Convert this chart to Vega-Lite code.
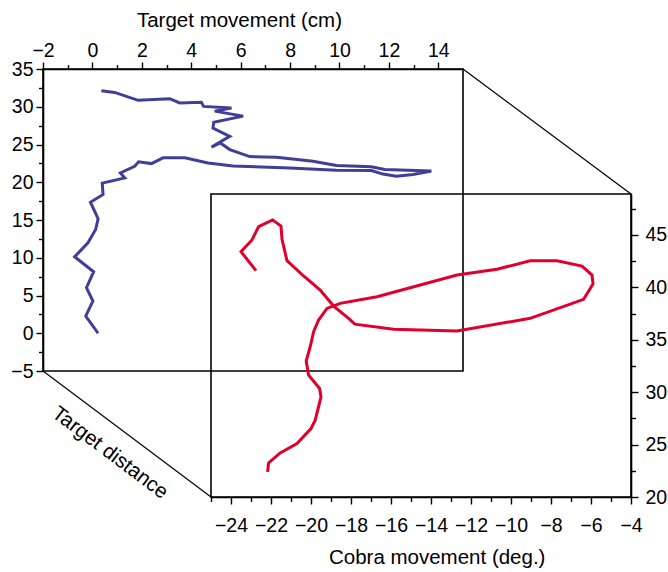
{
  "$schema": "https://vega.github.io/schema/vega-lite/v6.json",
  "width": 588,
  "height": 428,
  "autosize": {"type": "none"},
  "padding": {"left": 43, "top": 69, "right": 37, "bottom": 75},
  "config": {
    "view": {"stroke": null},
    "axis": {
      "grid": false,
      "domainColor": "black",
      "tickColor": "black",
      "labelColor": "black",
      "titleColor": "black",
      "labelFont": "Liberation Sans",
      "titleFont": "Liberation Sans",
      "labelFontSize": 19.5,
      "titleFontSize": 20.5,
      "titleFontWeight": "normal",
      "domainWidth": 1.6,
      "tickWidth": 1.4,
      "labelOverlap": false,
      "labelFlush": false
    }
  },
  "datasets": {
    "blue": [
      {"i": 0, "x": 0.23, "y": 0.0}, {"i": 1, "x": -0.27, "y": 2.28}, {"i": 2, "x": 0.02, "y": 4.26},
      {"i": 3, "x": -0.24, "y": 6.03}, {"i": 4, "x": 0.05, "y": 8.15}, {"i": 5, "x": -0.72, "y": 10.13},
      {"i": 6, "x": -0.18, "y": 11.98}, {"i": 7, "x": 0.13, "y": 13.74}, {"i": 8, "x": 0.23, "y": 15.16},
      {"i": 9, "x": 0.09, "y": 16.16}, {"i": 10, "x": -0.08, "y": 17.35}, {"i": 11, "x": 0.43, "y": 18.37},
      {"i": 12, "x": 0.40, "y": 19.89}, {"i": 13, "x": 1.31, "y": 20.58}, {"i": 14, "x": 1.13, "y": 21.24},
      {"i": 15, "x": 1.71, "y": 22.12}, {"i": 16, "x": 1.87, "y": 22.70}, {"i": 17, "x": 2.39, "y": 22.47},
      {"i": 18, "x": 2.86, "y": 23.23}, {"i": 19, "x": 3.74, "y": 23.23}, {"i": 20, "x": 4.68, "y": 22.54},
      {"i": 21, "x": 5.69, "y": 22.14}, {"i": 22, "x": 7.99, "y": 21.90}, {"i": 23, "x": 9.88, "y": 21.59},
      {"i": 24, "x": 11.29, "y": 21.55}, {"i": 25, "x": 11.76, "y": 21.08}, {"i": 26, "x": 12.30, "y": 20.79},
      {"i": 27, "x": 12.98, "y": 21.02}, {"i": 28, "x": 13.72, "y": 21.48}, {"i": 29, "x": 11.83, "y": 21.68},
      {"i": 30, "x": 11.29, "y": 22.04}, {"i": 31, "x": 9.88, "y": 22.21}, {"i": 32, "x": 8.93, "y": 22.78},
      {"i": 33, "x": 7.45, "y": 23.31}, {"i": 34, "x": 6.37, "y": 23.40}, {"i": 35, "x": 5.56, "y": 24.33},
      {"i": 36, "x": 5.18, "y": 25.21}, {"i": 37, "x": 4.82, "y": 24.66}, {"i": 38, "x": 5.56, "y": 26.08},
      {"i": 39, "x": 4.88, "y": 27.17}, {"i": 40, "x": 4.91, "y": 27.94}, {"i": 41, "x": 6.10, "y": 28.76},
      {"i": 42, "x": 4.95, "y": 29.42}, {"i": 43, "x": 5.63, "y": 29.84}, {"i": 44, "x": 4.50, "y": 30.05},
      {"i": 45, "x": 4.41, "y": 30.58}, {"i": 46, "x": 3.53, "y": 30.50}, {"i": 47, "x": 3.13, "y": 31.07},
      {"i": 48, "x": 1.85, "y": 30.85}, {"i": 49, "x": 0.90, "y": 31.90}, {"i": 50, "x": 0.36, "y": 32.13}
    ],
    "red": [
      {"i": 0, "x": -22.75, "y": 41.59}, {"i": 1, "x": -23.5, "y": 43.40}, {"i": 2, "x": -22.95, "y": 44.52},
      {"i": 3, "x": -22.62, "y": 45.79}, {"i": 4, "x": -21.92, "y": 46.43}, {"i": 5, "x": -21.5, "y": 45.85},
      {"i": 6, "x": -21.45, "y": 44.58}, {"i": 7, "x": -21.2, "y": 42.54}, {"i": 8, "x": -20.37, "y": 41.08},
      {"i": 9, "x": -19.54, "y": 39.74}, {"i": 10, "x": -18.87, "y": 38.21}, {"i": 11, "x": -18.12, "y": 37.04},
      {"i": 12, "x": -17.81, "y": 36.49}, {"i": 13, "x": -15.87, "y": 35.99}, {"i": 14, "x": -12.7, "y": 35.83},
      {"i": 15, "x": -9.04, "y": 37.04}, {"i": 16, "x": -6.37, "y": 38.85}, {"i": 17, "x": -5.9, "y": 40.32},
      {"i": 18, "x": -5.95, "y": 41.17}, {"i": 19, "x": -6.45, "y": 42.03}, {"i": 20, "x": -7.7, "y": 42.54},
      {"i": 21, "x": -9.04, "y": 42.54}, {"i": 22, "x": -10.7, "y": 41.72}, {"i": 23, "x": -12.7, "y": 41.17},
      {"i": 24, "x": -16.7, "y": 39.10}, {"i": 25, "x": -18.54, "y": 38.47}, {"i": 26, "x": -19.2, "y": 37.99},
      {"i": 27, "x": -19.62, "y": 36.88}, {"i": 28, "x": -19.87, "y": 35.76}, {"i": 29, "x": -20.04, "y": 34.33},
      {"i": 30, "x": -20.24, "y": 32.99}, {"i": 31, "x": -20.12, "y": 31.62}, {"i": 32, "x": -19.57, "y": 30.35},
      {"i": 33, "x": -19.5, "y": 29.55}, {"i": 34, "x": -19.79, "y": 27.33}, {"i": 35, "x": -20.0, "y": 26.53},
      {"i": 36, "x": -20.7, "y": 25.10}, {"i": 37, "x": -21.54, "y": 24.20}, {"i": 38, "x": -22.12, "y": 23.25},
      {"i": 39, "x": -22.17, "y": 22.39}
    ]
  },
  "layer": [
    {
      "encoding": {
        "x": {
          "field": "x", "type": "quantitative",
          "scale": {"domain": [-2, 15], "range": [0, 420], "nice": false, "zero": false},
          "axis": {
            "orient": "top",
            "values": [-2, -1, 0, 1, 2, 3, 4, 5, 6, 7, 8, 9, 10, 11, 12, 13, 14],
            "format": "d",
            "labelExpr": "datum.value % 2 === 0 ? datum.label : ''",
            "tickSize": {"condition": {"test": "datum.value % 2 === 0", "value": 7}, "value": 4.5},
            "labelBaseline": "alphabetic",
            "labelPadding": 5.6,
            "title": "Target movement (cm)",
            "titleX": 196,
            "titleY": -42.6,
            "titleAlign": "center",
            "titleBaseline": "alphabetic",
            "titleAngle": 0
          }
        },
        "y": {
          "field": "y", "type": "quantitative",
          "scale": {"domain": [-5, 35], "range": [302, 0], "nice": false, "zero": false},
          "axis": {
            "orient": "left",
            "values": [-5, -2.5, 0, 2.5, 5, 7.5, 10, 12.5, 15, 17.5, 20, 22.5, 25, 27.5, 30, 32.5, 35],
            "format": "d",
            "labelExpr": "datum.value % 5 === 0 ? datum.label : ''",
            "tickSize": {"condition": {"test": "datum.value % 5 === 0", "value": 7}, "value": 4.5},
            "labelPadding": 3,
            "title": null
          }
        }
      },
      "layer": [
        {
          "data": {"name": "blue"},
          "mark": {"type": "line", "color": "#3f3f98", "strokeWidth": 3},
          "encoding": {"order": {"field": "i", "type": "quantitative"}}
        },
        {
          "data": {"values": [{"x": -2, "x2": 15, "y": -5, "y2": 35}]},
          "mark": {"type": "rect", "filled": false, "stroke": "black", "strokeWidth": 1.6},
          "encoding": {"x2": {"field": "x2"}, "y2": {"field": "y2"}}
        }
      ]
    },
    {
      "encoding": {
        "x": {
          "field": "x", "type": "quantitative",
          "scale": {"domain": [-25, -4], "range": [168, 588], "nice": false, "zero": false},
          "axis": {
            "orient": "bottom",
            "values": [-25, -24, -23, -22, -21, -20, -19, -18, -17, -16, -15, -14, -13, -12, -11, -10, -9, -8, -7, -6, -5, -4],
            "format": "d",
            "labelExpr": "datum.value % 2 === 0 ? datum.label : ''",
            "tickSize": {"condition": {"test": "datum.value % 2 === 0", "value": 7}, "value": 4.5},
            "labelBaseline": "alphabetic",
            "labelPadding": 27,
            "title": "Cobra movement (deg.)",
            "titleX": 393.7,
            "titleY": 66.3,
            "titleAlign": "center",
            "titleBaseline": "alphabetic"
          }
        },
        "y": {
          "field": "y", "type": "quantitative",
          "scale": {"domain": [20, 48.9], "range": [428, 125], "nice": false, "zero": false},
          "axis": {
            "orient": "right",
            "values": [20, 22.5, 25, 27.5, 30, 32.5, 35, 37.5, 40, 42.5, 45, 47.5],
            "format": "d",
            "labelExpr": "datum.value % 5 === 0 ? datum.label : ''",
            "tickSize": {"condition": {"test": "datum.value % 5 === 0", "value": 7}, "value": 4.5},
            "labelPadding": 7,
            "title": null
          }
        }
      },
      "layer": [
        {
          "data": {"values": [{"x": -25, "x2": -4, "y": 20, "y2": 48.9}]},
          "mark": {"type": "rect", "filled": false, "stroke": "black", "strokeWidth": 1.6},
          "encoding": {"x2": {"field": "x2"}, "y2": {"field": "y2"}}
        },
        {
          "data": {"values": [
            {"x": -12.4, "y": 60.82, "x2": -4, "y2": 48.9},
            {"x": -33.4, "y": 32.02, "x2": -25, "y2": 20}
          ]},
          "mark": {"type": "rule", "color": "black", "strokeWidth": 1.2},
          "encoding": {"x2": {"field": "x2"}, "y2": {"field": "y2"}}
        },
        {
          "data": {"name": "red"},
          "mark": {"type": "line", "color": "#e0002b", "strokeWidth": 3},
          "encoding": {"order": {"field": "i", "type": "quantitative"}}
        },
        {
          "data": {"values": [{"x": -30.05, "y": 24.2, "label": "Target distance"}]},
          "mark": {"type": "text", "angle": 37, "align": "center", "baseline": "middle", "font": "Liberation Sans", "fontSize": 20.5, "color": "black"},
          "encoding": {"text": {"field": "label"}}
        }
      ]
    }
  ],
  "resolve": {
    "scale": {"x": "independent", "y": "independent"},
    "axis": {"x": "independent", "y": "independent"}
  }
}
